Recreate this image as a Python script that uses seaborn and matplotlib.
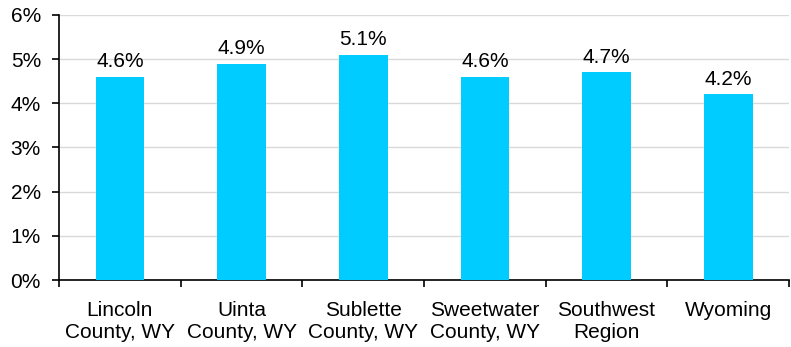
import matplotlib
matplotlib.use("Agg")
import matplotlib.pyplot as plt
import seaborn as sns
import pandas as pd
import numpy as np
from matplotlib.ticker import FuncFormatter, FixedLocator

categories = ["Lincoln\nCounty, WY", "Uinta\nCounty, WY", "Sublette\nCounty, WY",
              "Sweetwater\nCounty, WY", "Southwest\nRegion", "Wyoming"]
values = [4.6, 4.9, 5.1, 4.6, 4.7, 4.2]
value_labels = ["4.6%", "4.9%", "5.1%", "4.6%", "4.7%", "4.2%"]

sns.set_style("white")
plt.rcParams['font.family'] = ['Liberation Sans', 'DejaVu Sans']
plt.rcParams['text.color'] = 'black'
plt.rcParams['xtick.color'] = 'black'
plt.rcParams['ytick.color'] = 'black'

df = pd.DataFrame({"cat": categories, "val": values})

fig = plt.figure(figsize=(7.91, 3.47), dpi=100)
ax = fig.add_axes([0.0746, 0.193, 0.9229, 0.764])
sns.barplot(data=df, x="cat", y="val", color="#00CCFF", saturation=1, width=0.4, ax=ax,
            zorder=3, linewidth=0)

ax.set_ylim(0, 6)
ax.set_xlim(-0.5, len(categories) - 0.5)
ax.set_yticks(range(0, 7))
ax.yaxis.set_major_formatter(FuncFormatter(lambda v, p: f"{int(v)}%"))
ax.grid(axis="y", color="#D9D9D9", linewidth=1, zorder=0)
ax.set_axisbelow(True)

for sp in ["top", "right"]:
    ax.spines[sp].set_visible(False)
for sp in ["left", "bottom"]:
    ax.spines[sp].set_color("black")
    ax.spines[sp].set_linewidth(1.2)

fs = 15
ax.tick_params(axis="y", which="major", direction="out", length=5, width=1.2, color="black",
               labelcolor="black", labelsize=fs, pad=8, left=True)
ax.tick_params(axis="x", which="major", length=0, labelsize=fs, labelcolor="black", pad=15)
ax.xaxis.set_minor_locator(FixedLocator(np.arange(-0.5, len(categories), 1.0)))
ax.tick_params(axis="x", which="minor", direction="out", length=5, width=1.2, color="black", bottom=True)

ax.set_xlabel("")
ax.set_ylabel("")

for i, (v, lab) in enumerate(zip(values, value_labels)):
    ax.text(i, v + 0.12, lab, ha="center", va="bottom", fontsize=fs, color="black")

fig.savefig("out.png", dpi=100)
